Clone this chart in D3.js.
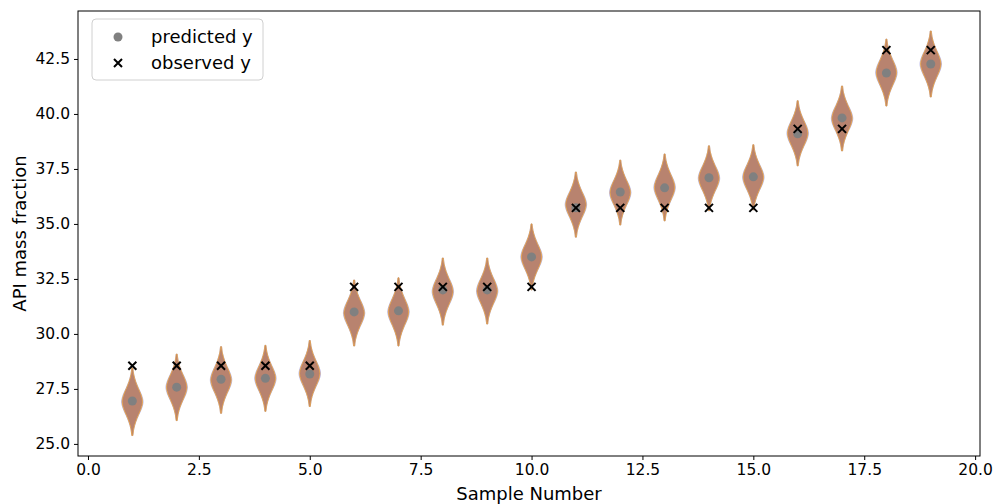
<!DOCTYPE html>
<html>
<head>
<meta charset="utf-8">
<script src="https://cdn.jsdelivr.net/npm/d3@7"></script>
<style>
  body { margin: 0; background: #fff; }
  svg { font-family: "DejaVu Sans", sans-serif; }
</style>
</head>
<body>
<svg id="chart" width="996" height="504"></svg>
<script>
// samples 1..19
var samples = [1, 2, 3, 4, 5, 6, 7, 8, 9, 10, 11, 12, 13, 14, 15, 16, 17, 18, 19];
var predicted = [26.95, 27.58, 27.94, 27.98, 28.18, 31.0, 31.05, 32.0, 32.0, 33.5,
                 35.73, 36.45, 36.64, 37.1, 37.14, 39.1, 39.82, 41.86, 42.27];
var observed = [28.55, 28.55, 28.55, 28.55, 28.55, 32.14, 32.14, 32.14, 32.14, 32.14,
                35.73, 35.73, 35.73, 35.73, 35.73, 39.32, 39.32, 42.9, 42.9];
// violin extents
var violinLo = [25.38, 26.06, 26.39, 26.48, 26.7, 29.45, 29.45, 30.4, 30.45, 32.0,
                34.4, 34.95, 35.14, 35.6, 35.64, 37.64, 38.32, 40.36, 40.77];
var violinHi = [28.45, 29.08, 29.42, 29.48, 29.7, 32.45, 32.55, 33.45, 33.45, 35.0,
                37.36, 37.9, 38.18, 38.55, 38.6, 40.6, 41.27, 43.4, 43.77];
// relative half-width of a body from bottom tip to top tip
var profile = [0.05, 0.14, 0.32, 0.58, 0.86, 1.0, 0.86, 0.58, 0.32, 0.14, 0.05];
var xTicks = [0, 2.5, 5, 7.5, 10, 12.5, 15, 17.5, 20];
var yTicks = [25, 27.5, 30, 32.5, 35, 37.5, 40, 42.5];

var margin = {left: 78, top: 11, right: 16, bottom: 48};
var W = 996, H = 504;
var w = W - margin.left - margin.right, h = H - margin.top - margin.bottom;

var svg = d3.select("#chart");
var g = svg.append("g").attr("transform", "translate(" + margin.left + "," + margin.top + ")");

var x = d3.scaleLinear().domain([-0.225, 20.11]).range([0, w]);
var y = d3.scaleLinear().domain([24.45, 44.68]).range([h, 0]);
var halfW = 0.23; // in x units

var area = d3.area()
  .curve(d3.curveCatmullRom)
  .y(function(d) { return y(d.v); });

samples.forEach(function(s, i) {
  var lo = violinLo[i], hi = violinHi[i];
  var pts = profile.map(function(p, k) {
    return {v: lo + (hi - lo) * k / (profile.length - 1), p: p};
  });
  // faint blue body outline underneath
  g.append("path")
    .datum(pts)
    .attr("d", area.x0(function(d) { return x(s - halfW * d.p * 1.05); })
                   .x1(function(d) { return x(s + halfW * d.p * 1.05); }))
    .attr("fill", "none")
    .attr("stroke", "#6f6fd8")
    .attr("stroke-opacity", 0.5)
    .attr("stroke-width", 1);
  g.append("path")
    .datum(pts)
    .attr("d", area.x0(function(d) { return x(s - halfW * d.p); })
                   .x1(function(d) { return x(s + halfW * d.p); }))
    .attr("fill", "#b8836f")
    .attr("stroke", "#f0a232")
    .attr("stroke-opacity", 0.7)
    .attr("stroke-width", 1);
});

g.selectAll("circle.pred")
  .data(samples)
  .enter().append("circle")
  .attr("class", "pred")
  .attr("cx", function(d) { return x(d); })
  .attr("cy", function(d, i) { return y(predicted[i]); })
  .attr("r", 4.5)
  .attr("fill", "#808080");

function xMark(sel, cx, cy) {
  var s = 4;
  sel.append("path")
    .attr("d", "M" + (cx - s) + "," + (cy - s) + "L" + (cx + s) + "," + (cy + s) +
               "M" + (cx - s) + "," + (cy + s) + "L" + (cx + s) + "," + (cy - s))
    .attr("stroke", "#000")
    .attr("stroke-width", 2)
    .attr("fill", "none");
}
samples.forEach(function(s, i) {
  xMark(g, x(s), y(observed[i]));
});

// axes
var xa = g.append("g")
  .attr("transform", "translate(0," + h + ")")
  .call(d3.axisBottom(x).tickValues(xTicks).tickFormat(d3.format(".1f")).tickSize(4).tickPadding(4));
var ya = g.append("g")
  .call(d3.axisLeft(y).tickValues(yTicks).tickFormat(d3.format(".1f")).tickSize(4).tickPadding(4));
[xa, ya].forEach(function(a) {
  a.attr("font-size", 15.5).attr("font-family", "DejaVu Sans");
  a.select(".domain").remove();
  a.selectAll(".tick text").attr("fill", "#000");
});

g.append("rect")
  .attr("width", w).attr("height", h)
  .attr("fill", "none").attr("stroke", "#000").attr("stroke-width", 1);

svg.append("text")
  .attr("x", margin.left + w / 2).attr("y", 500)
  .attr("text-anchor", "middle")
  .attr("font-size", 18)
  .text("Sample Number");
svg.append("text")
  .attr("transform", "translate(26," + (margin.top + h / 2) + ") rotate(-90)")
  .attr("text-anchor", "middle")
  .attr("font-size", 18)
  .text("API mass fraction");

// legend
var lg = svg.append("g").attr("transform", "translate(92,19)");
lg.append("rect")
  .attr("width", 171).attr("height", 61).attr("rx", 4)
  .attr("fill", "#fff").attr("fill-opacity", 0.8)
  .attr("stroke", "#d0d0d0");
lg.append("circle").attr("cx", 26).attr("cy", 18).attr("r", 4.5).attr("fill", "#808080");
xMark(lg, 26, 44);
lg.append("text").attr("x", 59).attr("y", 24).attr("font-size", 18).text("predicted y");
lg.append("text").attr("x", 59).attr("y", 50).attr("font-size", 18).text("observed y");
</script>
</body>
</html>
